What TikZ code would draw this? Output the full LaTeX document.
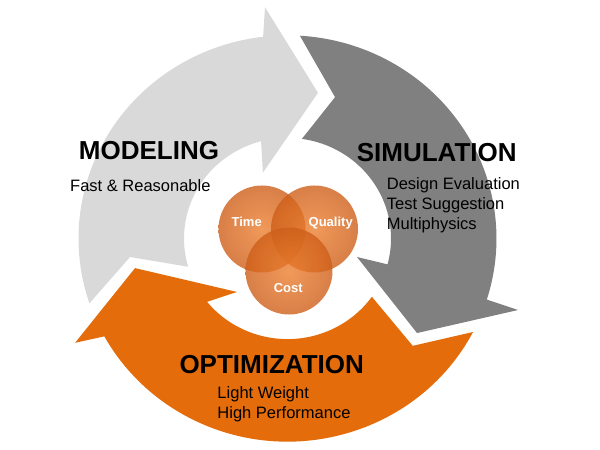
\documentclass[tikz,border=0pt]{standalone}
\usepackage{fontspec}
\setmainfont{Liberation Sans}
\usepackage{xcolor}
\usepackage{tikz}
\definecolor{lightgrey}{RGB}{217,217,217}
\definecolor{darkgrey}{RGB}{128,128,128}
\definecolor{accentorange}{RGB}{228,108,10}
\definecolor{vennin}{RGB}{238,128,48}
\definecolor{vennout}{RGB}{205,95,25}

\begin{document}
\begin{tikzpicture}[x=1pt,y=1pt,
	title/.style={font=\fontsize{26}{30}\selectfont\bfseries,anchor=base,inner sep=0pt},
	sub/.style={font=\fontsize{16.5}{20}\selectfont,align=left,anchor=base west,inner sep=0pt},
	venn/.style={circle,minimum size=87pt,inner sep=0pt,shading=radial,inner color=vennin,outer color=vennout,fill opacity=0.8},
	vennlabel/.style={font=\fontsize{13}{15}\selectfont\bfseries,text=white,anchor=base,inner sep=0pt}]
		\useasboundingbox (-287.5,-211.5) rectangle (312.5,238.5);
		%
		\begin{scope}[yscale=0.972]
		% modeling arrow
		\fill[lightgrey] (198.6:209) arc[start angle=198.6,end angle=96.7,radius=209]
		-- (95.4:239) -- (78.5:153) -- (110:72) -- (104.8:103.5)
		arc[start angle=104.8,end angle=196.3,radius=103.5] -- (186.9:158.6) -- cycle;
		% simulation arrow
		\fill[darkgrey] (86.6:209) arc[start angle=86.6,end angle=-17.5,radius=209]
		-- (-17.7:242) -- (-36.9:162) -- (-15.3:72) -- (-14.9:103.5)
		arc[start angle=-14.9,end angle=82,radius=103.5] -- (71.9:153) -- cycle;
		% optimization arrow
		\fill[accentorange] (-27.4:209) arc[start angle=-27.4,end angle=-151.2,radius=209]
		-- (206.8:238) -- (191.3:155.5) -- (227.4:74.7) -- (219:103.5)
		arc[start angle=-141,end angle=-35.4,radius=103.5] -- (-41.4:167) -- cycle;
		\end{scope}
		%
		% venn circles
		\node[venn] (time) at (-25.5,9.5) {};
		\node[venn] (quality) at (27,9.5) {};
		\node[venn] (cost) at (1.5,-32.5) {};
		\node[vennlabel] (timelabel) at (-40.8,12.2) {Time};
		\node[vennlabel] (qualitylabel) at (43.2,12.2) {Quality};
		\node[vennlabel] (costlabel) at (0.8,-54.4) {Cost};
		%
		% titles and texts (base = last line)
		\node[title] (modeling) at (-138.5,78.5) {MODELING};
		\node[title] (simulation) at (149.2,76.8) {SIMULATION};
		\node[title] (optimization) at (-15.8,-134.8) {OPTIMIZATION};
		\node[sub] (modelingtext) at (-217.5,46.8) {Fast \& Reasonable};
		\node[sub] (simulationtext) at (99.2,9.2) {Design Evaluation\\Test Suggestion\\Multiphysics};
		\node[sub] (optimizationtext) at (-70.2,-179.8) {Light Weight\\High Performance};
\end{tikzpicture}
\end{document}
